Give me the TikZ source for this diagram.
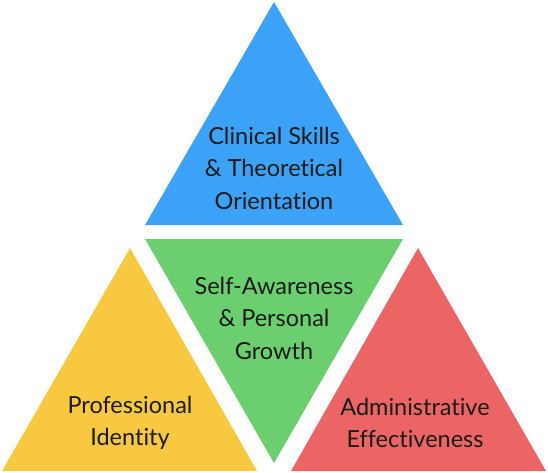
\documentclass[tikz,border=0pt]{standalone}
\usepackage{fontspec}
\setmainfont[Ligatures={NoCommon,NoRare}]{Lato}
\usetikzlibrary{calc,positioning}
\definecolor{skillblue}{HTML}{3BA2F8}
\definecolor{growthgreen}{HTML}{6BCF70}
\definecolor{identyellow}{HTML}{F8C940}
\definecolor{adminred}{HTML}{EC6565}
\definecolor{ink}{HTML}{1B1B1B}
\tikzset{
  tri/.style={draw=none},
  txt/.style={align=center,text=ink,inner sep=0pt,
              font=\fontsize{23.5}{32.5}\selectfont}
}
\begin{document}
\begin{tikzpicture}[x=1pt,y=-1pt]
  \useasboundingbox (0,0) rectangle (548,473);
  % corners of the four triangles
  \coordinate (bTop) at (274,2);   \coordinate (bL) at (145,225); \coordinate (bR) at (403,225);
  \coordinate (gL) at (145,239);   \coordinate (gR) at (403,239); \coordinate (gBot) at (274,463);
  \coordinate (yTop) at (130,248); \coordinate (yL) at (2,471);   \coordinate (yR) at (257,471);
  \coordinate (rTop) at (418,248); \coordinate (rL) at (291,471); \coordinate (rR) at (546,471);
  \fill[tri,skillblue] (bTop)--(bR)--(bL)--cycle;
  \fill[tri,growthgreen] (gL)--(gR)--(gBot)--cycle;
  \fill[tri,identyellow] (yTop)--(yR)--(yL)--cycle;
  \fill[tri,adminred] (rTop)--(rR)--(rL)--cycle;
  \node[txt] (skills) at (274,168) {Clinical Skills\\\& Theoretical\\Orientation};
  \node[txt] (growth) at (274,318) {Self-Awareness\\\& Personal\\Growth};
  \node[txt] (identity) at (130,423) {Professional\\Identity};
  \node[txt] (admin) at (415,423) {Administrative\\Effectiveness};
\end{tikzpicture}
\end{document}
